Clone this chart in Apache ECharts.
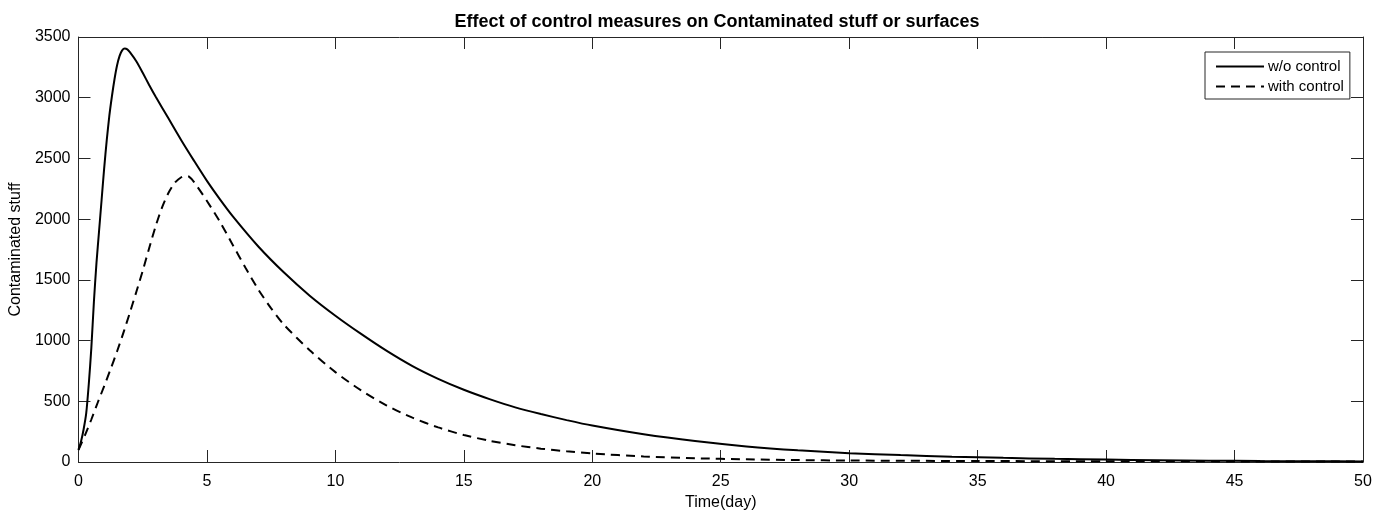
<!DOCTYPE html>
<html>
<head>
<meta charset="utf-8">
<script src="https://cdn.jsdelivr.net/npm/echarts@6/dist/echarts.min.js"></script>
<style>
html,body{margin:0;padding:0;background:#fff;}
#chart{width:1389px;height:517px;}
</style>
</head>
<body>
<div id="chart"></div>
<script>
// ---- data ----
const chartTitle = 'Effect of control measures on Contaminated stuff or surfaces';
const xAxisName = 'Time(day)';
const yAxisName = 'Contaminated stuff';
const seriesNames = ['w/o control', 'with control'];

const daysNoControl = [0, 0.1, 0.2, 0.3, 0.4, 0.5, 0.6, 0.7, 0.8, 0.9, 1.0, 1.1, 1.2, 1.3, 1.4, 1.5, 1.6, 1.7, 1.8, 1.9, 2.0, 2.25, 2.5, 2.75, 3.0, 3.5, 4.0, 4.5, 5, 5.5, 6, 7, 8, 9, 10, 11, 12, 13, 14, 15, 16, 17, 18, 19, 20, 22, 24, 26, 28, 30, 32, 34, 36, 38, 40, 42, 44, 46, 48, 50];
const valuesNoControl = [100, 170, 270, 400, 640, 940, 1320, 1640, 1900, 2160, 2420, 2650, 2850, 3010, 3150, 3265, 3345, 3390, 3405, 3398, 3375, 3300, 3205, 3105, 3010, 2830, 2650, 2480, 2315, 2165, 2025, 1775, 1560, 1370, 1205, 1055, 915, 790, 685, 595, 518, 450, 395, 345, 300, 228, 172, 128, 96, 73, 57, 44, 34, 26, 20, 15, 11, 8, 6, 5];

const daysWithControl = [0, 0.25, 0.5, 0.75, 1.0, 1.25, 1.5, 1.75, 2.0, 2.25, 2.5, 2.75, 3.0, 3.25, 3.5, 3.75, 4.0, 4.15, 4.3, 4.5, 5.0, 5.5, 6.0, 6.5, 7.0, 7.5, 8, 9, 10, 11, 12, 13, 14, 15, 16, 17, 18, 19, 20, 22, 24, 26, 28, 30, 35, 40, 45, 50];
const valuesWithControl = [100, 220, 350, 490, 625, 765, 910, 1065, 1230, 1400, 1575, 1760, 1940, 2095, 2215, 2300, 2345, 2356, 2350, 2305, 2150, 1980, 1790, 1600, 1420, 1265, 1130, 920, 740, 590, 465, 365, 285, 222, 175, 138, 110, 88, 70, 46, 31, 22, 16, 12, 8, 6, 5, 4];

const xTicks = [0, 5, 10, 15, 20, 25, 30, 35, 40, 45, 50];
const yTicks = [0, 500, 1000, 1500, 2000, 2500, 3000, 3500];

// ---- chart ----
const pairs = (xs, ys) => xs.map((x, i) => [x, ys[i]]);
const FONT = 'Liberation Sans, Arial, Helvetica, sans-serif';
const INK = '#262626';

const chart = echarts.init(document.getElementById('chart'), null, {renderer: 'canvas'});

const axisCommon = {
  type: 'value',
  axisLine: {show: true, onZero: false, lineStyle: {color: INK, width: 1}},
  axisTick: {show: true, inside: true, length: 12, lineStyle: {color: INK, width: 1}},
  splitLine: {show: false},
};

chart.setOption({
  animation: false,
  backgroundColor: '#ffffff',
  textStyle: {fontFamily: FONT},
  title: {
    text: chartTitle,
    left: 712, top: 8, textAlign: 'center',
    textStyle: {fontFamily: FONT, fontSize: 18, fontWeight: 'bold', color: '#000'}
  },
  grid: {left: 75, right: 26, top: 37, bottom: 55, containLabel: false},
  legend: {
    data: seriesNames,
    orient: 'vertical',
    left: 1205, top: 52,
    padding: [7, 6, 5, 10],
    itemGap: 5,
    itemWidth: 48, itemHeight: 14,
    borderColor: INK, borderWidth: 1, borderRadius: 0,
    backgroundColor: '#fff',
    itemStyle: {opacity: 0},
    textStyle: {fontFamily: FONT, fontSize: 15, color: '#000', padding: [0, 0, 0, -1]}
  },
  xAxis: [
    Object.assign({}, axisCommon, {
      position: 'bottom', min: 0, max: 50, interval: 5,
      name: xAxisName, nameLocation: 'middle', nameGap: 20,
      nameTextStyle: {fontFamily: FONT, fontSize: 16, color: '#000'},
      axisLabel: {show: true, margin: 12, fontFamily: FONT, fontSize: 16, color: '#000',
        formatter: v => xTicks.includes(v) ? String(v) : ''}
    }),
    Object.assign({}, axisCommon, {
      position: 'top', min: 0, max: 50, interval: 5,
      axisLabel: {show: false}
    })
  ],
  yAxis: [
    Object.assign({}, axisCommon, {
      position: 'left', min: 0, max: 3500, interval: 500,
      name: yAxisName, nameLocation: 'middle', nameGap: 42,
      nameTextStyle: {fontFamily: FONT, fontSize: 16, color: '#000'},
      axisLabel: {show: true, margin: 8, fontFamily: FONT, fontSize: 16, color: '#000',
        formatter: v => yTicks.includes(v) ? String(v) : ''}
    }),
    Object.assign({}, axisCommon, {
      position: 'right', min: 0, max: 3500, interval: 500,
      axisLabel: {show: false}
    })
  ],
  series: [
    {
      name: seriesNames[0], type: 'line', xAxisIndex: 0, yAxisIndex: 0,
      data: pairs(daysNoControl, valuesNoControl),
      showSymbol: false, symbol: 'none', smooth: 0.25,
      lineStyle: {color: '#000', width: 2, type: 'solid'},
      itemStyle: {color: '#000'}
    },
    {
      name: seriesNames[1], type: 'line', xAxisIndex: 0, yAxisIndex: 0,
      data: pairs(daysWithControl, valuesWithControl),
      showSymbol: false, symbol: 'none', smooth: 0.25,
      lineStyle: {color: '#000', width: 2, type: [9, 6]},
      itemStyle: {color: '#000'}
    }
  ]
});
</script>
</body>
</html>
